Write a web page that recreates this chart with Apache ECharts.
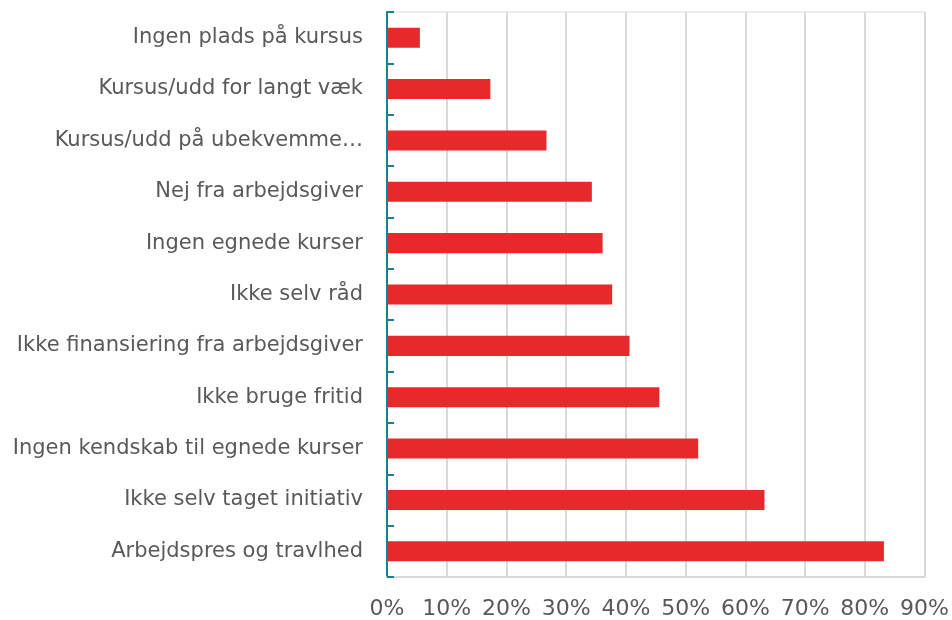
<!DOCTYPE html>
<html><head><meta charset="utf-8">
<script src="https://cdn.jsdelivr.net/npm/echarts@6/dist/echarts.min.js"></script>
<style>html,body{margin:0;padding:0;background:#fff}#c{width:952px;height:620px}</style>
</head><body><div id="c"></div>
<script>
const categories = [
  "Arbejdspres og travlhed",
  "Ikke selv taget initiativ",
  "Ingen kendskab til egnede kurser",
  "Ikke bruge fritid",
  "Ikke finansiering fra arbejdsgiver",
  "Ikke selv råd",
  "Ingen egnede kurser",
  "Nej fra arbejdsgiver",
  "Kursus/udd på ubekvemme…",
  "Kursus/udd for langt væk",
  "Ingen plads på kursus"
];
const values = [83.2, 63.2, 52.1, 45.6, 40.6, 37.7, 36.1, 34.3, 26.7, 17.3, 5.5];
const xTicks = [0, 10, 20, 30, 40, 50, 60, 70, 80, 90];

const chart = echarts.init(document.getElementById('c'), null, {renderer: 'canvas'});
chart.setOption({
  animation: false,
  grid: {left: 387, right: 26, top: 12, bottom: 43, show: true, borderColor: '#d9d9d9', borderWidth: 1},
  xAxis: {
    type: 'value', min: xTicks[0], max: xTicks[xTicks.length - 1], interval: 10,
    axisLine: {show: true, lineStyle: {color: '#d9d9d9', width: 2}},
    axisTick: {show: false},
    splitLine: {show: true, lineStyle: {color: '#d9d9d9', width: 2}},
    axisLabel: {color: '#595959', fontFamily: 'DejaVu Sans', fontSize: 22, margin: 21, formatter: v => v + '%'}
  },
  yAxis: {
    type: 'category', data: categories,
    axisLine: {show: true, lineStyle: {color: '#1a7f8e', width: 2}},
    axisTick: {show: true, inside: true, length: 7, alignWithLabel: false, lineStyle: {color: '#1a7f8e', width: 2}},
    axisLabel: {color: '#595959', fontFamily: 'DejaVu Sans', fontSize: 21, margin: 24},
    splitLine: {show: false}
  },
  series: [{
    type: 'bar', data: values, barWidth: '39%',
    itemStyle: {color: '#e7292c'}
  }]
});
</script></body></html>
